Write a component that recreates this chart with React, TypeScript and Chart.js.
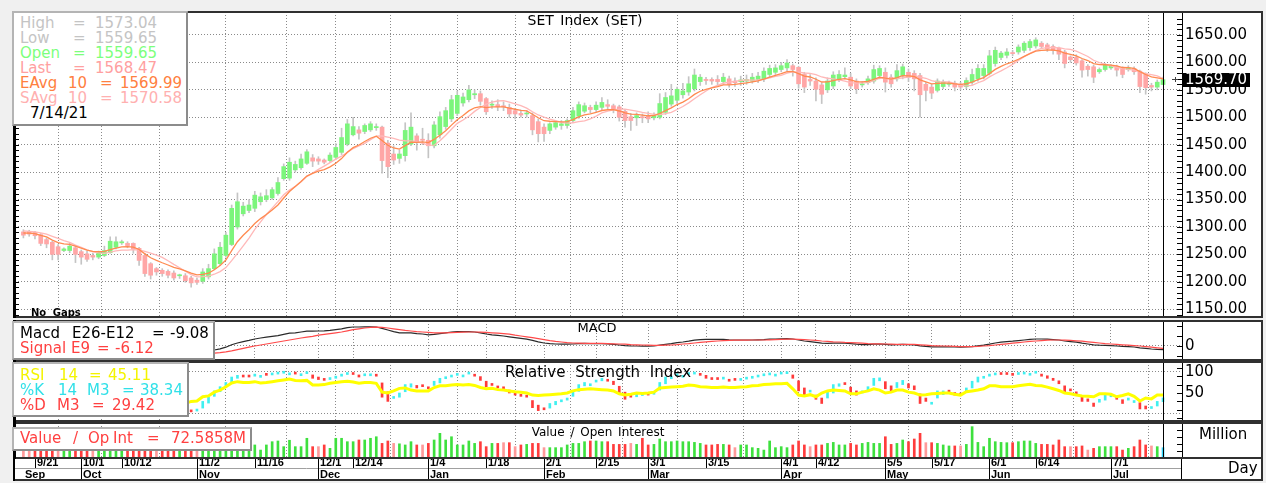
import React, { useEffect, useRef } from "react";
import { Chart, registerables } from "chart.js";

Chart.register(...registerables);

// ================= DATA =================
const tickIndex = [2, 10, 17, 30, 40, 51, 57, 70, 80, 90, 99, 108, 118, 131, 137, 149, 157, 167, 175, 188];
const tickLabels = ["9/21", "10/1", "10/12", "11/2", "11/16", "12/1", "12/14", "1/4", "1/18", "2/1", "2/15", "3/1", "3/15", "4/1", "4/12", "5/5", "5/17", "6/1", "6/14", "7/1"];
const monthIndex = [0, 10, 30, 51, 70, 90, 108, 131, 149, 167, 188];
const monthLabels = ["Sep", "Oct", "Nov", "Dec", "Jan", "Feb", "Mar", "Apr", "May", "Jun", "Jul"];
const priceTicks = [1150, 1200, 1250, 1300, 1350, 1400, 1450, 1500, 1550, 1600, 1650];
const lastPriceLabel = 1569.7;

const openP = [
  1291, 1292, 1290, 1286, 1277, 1272, 1264, 1257, 1257, 1262,
  1255, 1251, 1248, 1245, 1248, 1253, 1263, 1271, 1270, 1270,
  1261, 1248, 1233, 1224, 1221, 1219, 1216, 1211, 1211, 1207,
  1203, 1201, 1209, 1224, 1233, 1248, 1268, 1300, 1324, 1330,
  1334, 1346, 1350, 1353, 1361, 1388, 1389, 1404, 1408, 1416,
  1426, 1424, 1422, 1421, 1427, 1436, 1451, 1468, 1477, 1474,
  1477, 1481, 1482, 1453, 1433, 1425, 1430, 1451, 1466, 1460,
  1458, 1448, 1468, 1483, 1497, 1507, 1526, 1532, 1541, 1543,
  1534, 1522, 1523, 1521, 1518, 1512, 1507, 1506, 1503, 1492,
  1482, 1476, 1482, 1485, 1485, 1494, 1502, 1511, 1518, 1514,
  1518, 1523, 1521, 1519, 1511, 1501, 1499, 1501, 1503, 1499,
  1500, 1509, 1524, 1531, 1541, 1546, 1552, 1565, 1569, 1569,
  1569, 1565, 1570, 1566, 1565, 1566, 1566, 1569, 1570, 1578,
  1582, 1587, 1590, 1594, 1591, 1578, 1569, 1566, 1559, 1550,
  1557, 1569, 1574, 1573, 1566, 1559, 1563, 1566, 1576, 1582,
  1573, 1570, 1576, 1582, 1580, 1576, 1560, 1555, 1549, 1556,
  1560, 1562, 1560, 1556, 1564, 1570, 1576, 1580, 1598, 1609,
  1613, 1618, 1619, 1622, 1627, 1630, 1635, 1632, 1629, 1626,
  1619, 1610, 1609, 1603, 1593, 1592, 1583, 1587, 1590, 1592,
  1589, 1587, 1589, 1584, 1579, 1558, 1555, 1559.65,
];
const highP = [
  1295, 1294, 1292, 1288, 1280, 1274, 1268, 1262, 1270, 1266,
  1258, 1256, 1252, 1256, 1265, 1282, 1282, 1276, 1273, 1271,
  1263, 1252, 1235, 1226, 1224, 1222, 1220, 1214, 1215, 1210,
  1207, 1224, 1232, 1260, 1272, 1290, 1340, 1362, 1345, 1350,
  1365, 1362, 1368, 1372, 1390, 1415, 1426, 1420, 1433, 1441,
  1432, 1428, 1424, 1435, 1452, 1480, 1496, 1500, 1483, 1488,
  1492, 1488, 1484, 1458, 1448, 1440, 1490, 1508, 1470, 1480,
  1470, 1492, 1510, 1518, 1540, 1548, 1544, 1558, 1550, 1548,
  1536, 1530, 1532, 1528, 1524, 1516, 1513, 1512, 1508, 1497,
  1488, 1490, 1494, 1494, 1497, 1518, 1528, 1526, 1522, 1528,
  1536, 1532, 1524, 1522, 1514, 1507, 1508, 1506, 1510, 1508,
  1543, 1545, 1560, 1555, 1562, 1574, 1588, 1578, 1573, 1572,
  1576, 1580, 1575, 1572, 1575, 1577, 1580, 1582, 1590, 1595,
  1596, 1600, 1605, 1597, 1593, 1582, 1578, 1572, 1563, 1572,
  1583, 1585, 1590, 1580, 1570, 1565, 1575, 1595, 1594, 1590,
  1578, 1596, 1597, 1588, 1585, 1580, 1563, 1560, 1570, 1568,
  1566, 1566, 1564, 1572, 1588, 1596, 1596, 1622, 1628, 1620,
  1625, 1622, 1632, 1638, 1642, 1645, 1638, 1635, 1632, 1628,
  1622, 1612, 1614, 1605, 1596, 1595, 1590, 1598, 1596, 1595,
  1592, 1594, 1592, 1586, 1581, 1562, 1568, 1573.04,
];
const lowP = [
  1280, 1283, 1278, 1266, 1262, 1240, 1240, 1255, 1253, 1235,
  1232, 1237, 1240, 1242, 1246, 1252, 1260, 1268, 1262, 1252,
  1230, 1210, 1205, 1212, 1210, 1207, 1203, 1206, 1199, 1190,
  1195, 1197, 1205, 1222, 1230, 1245, 1266, 1296, 1320, 1326,
  1328, 1340, 1346, 1350, 1358, 1385, 1385, 1400, 1405, 1414,
  1410, 1414, 1415, 1418, 1423, 1432, 1448, 1466, 1460, 1470,
  1474, 1476, 1398, 1390, 1414, 1416, 1420, 1448, 1440, 1450,
  1426, 1444, 1462, 1478, 1492, 1503, 1520, 1528, 1534, 1522,
  1505, 1516, 1512, 1512, 1500, 1497, 1500, 1500, 1468, 1455,
  1456, 1470, 1478, 1478, 1480, 1490, 1498, 1508, 1508, 1510,
  1514, 1515, 1508, 1493, 1482, 1476, 1485, 1490, 1490, 1495,
  1497, 1505, 1520, 1525, 1535, 1540, 1548, 1558, 1560, 1560,
  1558, 1560, 1555, 1556, 1558, 1560, 1562, 1563, 1565, 1572,
  1578, 1583, 1585, 1575, 1553, 1545, 1558, 1530, 1525, 1545,
  1552, 1565, 1570, 1552, 1543, 1555, 1560, 1562, 1570, 1546,
  1555, 1566, 1570, 1565, 1548, 1500, 1530, 1534, 1546, 1552,
  1556, 1548, 1550, 1552, 1560, 1566, 1570, 1577, 1593, 1605,
  1608, 1612, 1615, 1618, 1622, 1626, 1625, 1620, 1615, 1605,
  1590, 1600, 1595, 1573, 1575, 1563, 1580, 1584, 1587, 1575,
  1572, 1584, 1578, 1545, 1542, 1548, 1550, 1559.65,
];
const closeP = [
  1285, 1287, 1284, 1270, 1269, 1250, 1250, 1260, 1265, 1250,
  1245, 1241, 1245, 1254, 1257, 1274, 1273, 1273, 1266, 1260,
  1239, 1215, 1212, 1218, 1215, 1212, 1207, 1212, 1202, 1198,
  1199, 1218, 1224, 1251, 1263, 1285, 1334, 1346, 1338, 1340,
  1358, 1355, 1357, 1368, 1381, 1410, 1418, 1414, 1424, 1437,
  1420, 1420, 1418, 1431, 1445, 1463, 1488, 1483, 1471, 1485,
  1488, 1483, 1421, 1410, 1422, 1433, 1476, 1482, 1454, 1458,
  1448, 1486, 1501, 1512, 1532, 1540, 1537, 1550, 1543, 1529,
  1510, 1524, 1519, 1519, 1506, 1506, 1504, 1507, 1477, 1470,
  1470, 1488, 1490, 1488, 1494, 1512, 1523, 1521, 1514, 1522,
  1527, 1520, 1515, 1500, 1494, 1494, 1503, 1499, 1497, 1503,
  1525, 1536, 1539, 1551, 1548, 1561, 1577, 1573, 1567, 1566,
  1565, 1573, 1560, 1563, 1568, 1569, 1573, 1575, 1584, 1589,
  1590, 1594, 1599, 1587, 1561, 1555, 1566, 1551, 1542, 1566,
  1577, 1578, 1577, 1557, 1552, 1561, 1570, 1587, 1589, 1564,
  1561, 1585, 1592, 1573, 1570, 1541, 1549, 1544, 1566, 1564,
  1562, 1555, 1555, 1567, 1578, 1589, 1589, 1612, 1622, 1617,
  1619, 1616, 1628, 1635, 1638, 1641, 1629, 1625, 1622, 1615,
  1598, 1605, 1599, 1586, 1587, 1573, 1587, 1595, 1593, 1586,
  1578, 1590, 1583, 1556, 1554, 1555, 1564, 1568.47,
];
const ema10 = [
  1289, 1288.6, 1287.8, 1284.6, 1281.8, 1276.0, 1271.3, 1269.2, 1268.4, 1265.1,
  1261.4, 1257.7, 1255.4, 1255.1, 1255.4, 1258.8, 1261.4, 1263.5, 1264.0, 1263.3,
  1258.9, 1250.9, 1243.8, 1239.1, 1234.7, 1230.6, 1226.3, 1223.7, 1219.8, 1215.8,
  1212.7, 1213.7, 1215.6, 1222.0, 1229.5, 1239.6, 1256.8, 1273.0, 1284.8, 1294.8,
  1306.3, 1315.2, 1322.8, 1331.0, 1340.1, 1352.8, 1364.7, 1373.7, 1382.9, 1392.7,
  1397.7, 1401.8, 1404.7, 1409.5, 1416.0, 1424.6, 1436.1, 1444.6, 1449.4, 1455.9,
  1461.7, 1465.6, 1457.5, 1448.9, 1444.0, 1442.0, 1448.2, 1454.4, 1454.3, 1455.0,
  1453.7, 1459.6, 1467.1, 1475.3, 1485.6, 1495.5, 1503.1, 1511.6, 1517.3, 1519.4,
  1517.7, 1518.8, 1518.8, 1518.8, 1516.5, 1514.6, 1512.7, 1511.7, 1505.4, 1499.0,
  1493.7, 1492.7, 1492.2, 1491.4, 1491.9, 1495.6, 1500.6, 1504.3, 1506.1, 1509.0,
  1512.3, 1513.7, 1513.9, 1511.4, 1508.2, 1505.6, 1505.1, 1504.0, 1502.7, 1502.8,
  1506.8, 1512.1, 1517.0, 1523.2, 1527.7, 1533.8, 1541.7, 1547.4, 1551.0, 1553.7,
  1555.8, 1558.9, 1559.1, 1559.8, 1561.3, 1562.7, 1564.6, 1566.5, 1569.7, 1573.2,
  1576.3, 1579.5, 1583.0, 1583.7, 1579.6, 1575.1, 1573.4, 1569.3, 1564.3, 1564.6,
  1566.9, 1568.9, 1570.4, 1568.0, 1565.1, 1564.4, 1565.4, 1569.3, 1572.9, 1571.3,
  1569.4, 1572.2, 1575.8, 1575.3, 1574.3, 1568.2, 1564.7, 1560.9, 1561.8, 1562.2,
  1562.2, 1560.9, 1559.8, 1561.1, 1564.2, 1568.7, 1572.4, 1579.6, 1587.3, 1592.7,
  1597.5, 1600.9, 1605.8, 1611.1, 1616.0, 1620.6, 1622.1, 1622.6, 1622.5, 1621.1,
  1616.9, 1614.7, 1611.8, 1607.1, 1603.4, 1597.9, 1595.9, 1595.7, 1595.2, 1593.5,
  1590.7, 1590.6, 1589.2, 1583.2, 1577.9, 1573.7, 1571.9, 1569.99,
];
const sma10 = [
  1293, 1292, 1291, 1289, 1287, 1283, 1279, 1275, 1272, 1267.0,
  1263.0, 1258.4, 1254.5, 1252.9, 1251.7, 1254.1, 1256.4, 1257.7, 1257.8, 1258.8,
  1258.2, 1255.6, 1252.3, 1248.7, 1244.5, 1238.3, 1231.7, 1225.6, 1219.2, 1213.0,
  1209.0, 1209.3, 1210.5, 1213.8, 1218.6, 1225.9, 1238.6, 1252.0, 1265.6, 1279.8,
  1295.7, 1309.4, 1322.7, 1334.4, 1346.2, 1358.7, 1367.1, 1373.9, 1382.5, 1392.2,
  1398.4, 1404.9, 1411.0, 1417.3, 1423.7, 1429.0, 1436.0, 1442.9, 1447.6, 1452.4,
  1459.2, 1465.5, 1465.8, 1463.7, 1461.4, 1458.4, 1457.2, 1457.1, 1455.4, 1452.7,
  1448.7, 1449.0, 1457.0, 1467.2, 1478.2, 1488.9, 1495.0, 1501.8, 1510.7, 1517.8,
  1524.0, 1527.8, 1529.6, 1530.3, 1527.7, 1524.3, 1521.0, 1516.7, 1510.1, 1504.2,
  1500.2, 1496.6, 1493.7, 1490.6, 1489.4, 1490.0, 1491.9, 1493.3, 1497.0, 1502.2,
  1507.9, 1511.1, 1513.6, 1514.8, 1514.8, 1513.0, 1511.0, 1508.8, 1507.1, 1505.2,
  1505.0, 1506.6, 1509.0, 1514.1, 1519.5, 1526.2, 1533.6, 1541.0, 1548.0, 1554.3,
  1558.3, 1562.0, 1564.1, 1565.3, 1567.3, 1568.1, 1567.7, 1567.9, 1569.6, 1571.9,
  1574.4, 1576.5, 1580.4, 1582.8, 1582.1, 1580.7, 1580.0, 1577.6, 1573.4, 1571.1,
  1569.8, 1568.2, 1566.0, 1563.0, 1562.1, 1562.7, 1563.1, 1566.7, 1571.4, 1571.2,
  1569.6, 1570.3, 1571.8, 1573.4, 1575.2, 1573.2, 1571.1, 1566.8, 1564.5, 1564.5,
  1564.6, 1561.6, 1557.9, 1557.3, 1558.1, 1562.9, 1566.9, 1573.7, 1579.3, 1584.6,
  1590.3, 1596.4, 1603.7, 1610.5, 1616.5, 1621.7, 1625.7, 1627.0, 1627.0, 1626.8,
  1624.7, 1623.6, 1620.7, 1615.8, 1610.7, 1603.9, 1599.7, 1596.7, 1593.8, 1590.9,
  1588.9, 1587.4, 1585.8, 1582.8, 1579.5, 1577.7, 1575.4, 1570.58,
];
const macdLine = [
  -3, -4, -5, -6, -7, -8, -9, -10, -10, -11,
  -12, -13, -13, -13, -13, -12, -11, -10, -10, -10,
  -12, -14, -16, -17, -18, -19, -20, -20, -21, -21,
  -20, -17, -14, -10, -7, -3, 3, 7.5, 11, 14,
  17.5, 20, 22, 24, 26, 29, 32, 33, 35, 37,
  37, 37.5, 38, 39, 41, 43, 46, 47.5, 47.5, 48,
  48, 47.5, 44, 40, 36, 33, 33, 33, 31, 30,
  28, 29, 31, 33, 35, 36, 36, 36, 35, 33,
  30, 28, 26.5, 25, 23, 21, 19, 17, 14, 10.5,
  7.5, 6, 5, 4.5, 4.5, 5, 6, 6.5, 6, 6,
  6, 5, 4, 2.5, 1, 0, 0, -0.5, -0.5, 0,
  2, 4, 6, 8.5, 10, 12, 14.5, 16, 16.5, 16.5,
  16.5, 16.5, 15.5, 15, 15, 15, 15, 15.5, 16, 17,
  17.5, 18, 18.5, 17.5, 15, 12.5, 11, 9, 7, 6.5,
  7, 7, 7, 6, 4.5, 3.5, 3.5, 4.5, 5, 4,
  3, 3.5, 4, 3.5, 3, 0.5, -1, -2, -2, -2,
  -2, -2.5, -3, -2.5, -1.5, 0.5, 2, 4.5, 7.5, 9.5,
  11, 12, 13.5, 15, 16.5, 17.5, 17.5, 17, 16, 15,
  12.5, 11, 9.5, 7, 5, 3, 2, 1.5, 1, 0,
  -1, -1.5, -2.5, -4.5, -6, -7.5, -8.5, -9.08,
];
const signalLine = [
  -2, -2.5, -3, -3.5, -4, -5, -5.5, -6, -7, -7.5,
  -8, -9, -9.5, -10, -10.5, -11, -11, -11, -11, -11,
  -11.5, -12, -12.5, -13, -14, -15, -15.5, -16, -17, -17.5,
  -18, -18, -18, -18, -16.5, -14.5, -12, -9, -6, -3,
  0, 2.5, 5, 7.5, 10, 12.5, 15, 17.5, 20, 22,
  24, 27, 29, 31, 33, 35, 38, 41, 43, 45,
  46.5, 47, 46.5, 45, 43, 41, 39, 37.5, 36, 35,
  34, 33, 33, 33, 33.5, 34, 34.5, 35, 35, 34.5,
  34, 33, 32, 31, 29.5, 27, 25, 23, 21, 18.5,
  16, 13.5, 11.5, 10, 8.5, 7.5, 7, 6.5, 6.5, 6.5,
  6.5, 6, 5.5, 5, 4.5, 3.5, 3, 2.5, 2, 1.5,
  1.5, 2, 2.5, 3.5, 5, 6, 7.5, 9, 10.5, 11.5,
  12.5, 13.5, 14, 14.5, 14.5, 14.5, 15, 15, 15, 15.5,
  16, 16.5, 17, 17, 16.5, 16, 15, 14, 12.5, 11.5,
  10.5, 10, 9, 8.5, 8, 7, 6, 5.5, 5.5, 5,
  4.5, 4, 4, 4, 4, 3, 2, 1, 0.5, 0,
  -0.5, -1, -1.5, -1.5, -1.5, -1, 0, 1, 2.5, 4,
  5.5, 7, 8.5, 10, 11.5, 12.5, 13.5, 14.5, 15, 15,
  14.5, 14, 13, 12, 10.5, 9, 7.5, 6, 5, 4,
  3, 2, 1, 0, -1.5, -3, -4.5, -6.12,
];
const rsi14 = [
  45, 46, 44, 35, 35, 28, 28, 38, 42, 33,
  31, 30, 33, 40, 42, 55, 54, 54, 48, 44,
  35, 25, 24, 30, 28, 26, 24, 30, 25, 30,
  31, 41, 43, 52, 57, 65, 74, 77, 75, 75,
  77, 74, 75, 77, 79, 81, 83, 80, 79, 80,
  69, 69, 70, 73, 75, 77, 78, 76, 73, 75,
  75, 73, 52, 50, 55, 61, 62, 57, 55, 55,
  55, 63, 67, 67, 69, 70, 69, 70, 68, 63,
  60, 61, 58, 57, 55, 53, 52, 50, 45, 44,
  45, 46, 47, 48, 50, 55, 58, 59, 60, 59,
  58, 57, 55, 48, 45, 47, 50, 49, 50, 52,
  62, 63, 64, 65, 66, 69, 68, 65, 64, 63,
  63, 64, 63, 63, 64, 65, 67, 68, 70, 71,
  72, 72, 73, 60, 45, 43, 46, 41, 50, 55,
  57, 56, 55, 48, 48, 52, 55, 60, 57, 50,
  52, 57, 57, 52, 50, 45, 46, 48, 49, 50,
  50, 47, 45, 53, 55, 57, 60, 67, 67, 65,
  65, 65, 67, 69, 71, 68, 67, 64, 60, 56,
  50, 48, 45, 43, 42, 41, 48, 48, 47, 41,
  44, 48, 42, 31, 38, 36, 45, 45.11,
];
const stochK = [
  60, 55, 50, 30, 25, 12, 10, 30, 40, 25,
  15, 12, 18, 35, 45, 80, 82, 85, 75, 60,
  30, 10, 8, 15, 12, 10, 8, 15, 8, 5,
  8, 30, 40, 55, 65, 75, 88, 92, 88, 88,
  95, 92, 92, 95, 97, 98, 98, 95, 96, 97,
  85, 82, 80, 85, 90, 95, 97, 94, 88, 92,
  93, 90, 40, 30, 40, 50, 70, 72, 62, 65,
  60, 78, 85, 88, 92, 95, 93, 96, 90, 80,
  65, 68, 62, 60, 50, 45, 42, 40, 15, 8,
  10, 25, 30, 32, 38, 55, 70, 75, 72, 80,
  85, 78, 70, 50, 35, 40, 48, 45, 45, 52,
  75, 88, 90, 95, 92, 96, 98, 92, 85, 82,
  82, 86, 78, 80, 83, 85, 88, 90, 94, 95,
  95, 96, 98, 85, 55, 45, 55, 35, 25, 55,
  70, 72, 70, 50, 45, 55, 65, 85, 86, 60,
  55, 75, 80, 62, 58, 25, 30, 28, 55, 55,
  52, 45, 45, 62, 78, 88, 88, 95, 97, 94,
  94, 92, 96, 97, 97, 98, 90, 85, 80, 72,
  50, 55, 48, 30, 30, 18, 35, 45, 42, 35,
  25, 38, 32, 12, 12, 15, 30, 38.34,
];
const stochD = [
  62, 58, 55, 45, 35, 22, 16, 17, 27, 32,
  27, 17, 15, 22, 33, 53, 69, 82, 81, 73,
  55, 33, 16, 11, 12, 12, 10, 11, 10, 9,
  7, 14, 26, 42, 53, 65, 76, 85, 89, 89,
  90, 92, 93, 93, 95, 97, 98, 97, 96, 96,
  93, 88, 82, 82, 85, 90, 94, 95, 93, 91,
  91, 92, 74, 53, 37, 40, 53, 64, 68, 66,
  62, 68, 74, 84, 88, 92, 93, 95, 93, 89,
  78, 71, 65, 63, 57, 52, 46, 42, 32, 21,
  11, 14, 22, 29, 33, 42, 54, 67, 72, 76,
  79, 81, 78, 66, 52, 42, 41, 44, 46, 47,
  57, 72, 84, 91, 92, 94, 95, 95, 92, 86,
  83, 83, 82, 81, 80, 83, 85, 88, 91, 93,
  95, 95, 96, 93, 79, 62, 52, 45, 38, 38,
  50, 66, 71, 64, 55, 50, 55, 68, 79, 77,
  67, 63, 70, 72, 67, 48, 38, 28, 38, 46,
  54, 51, 47, 51, 62, 76, 85, 90, 93, 95,
  95, 93, 94, 95, 97, 97, 95, 91, 85, 79,
  67, 59, 51, 44, 36, 26, 28, 33, 41, 41,
  34, 33, 32, 27, 19, 13, 19, 29.42,
];
const valueM = [
  95, 88, 90, 100, 92, 110, 98, 85, 90, 96,
  88, 92, 85, 90, 95, 105, 100, 88, 86, 92,
  110, 120, 100, 90, 88, 85, 92, 80, 95, 100,
  98, 120, 110, 130, 125, 140, 170, 160, 130, 120,
  92, 56, 92, 115, 120, 80, 125, 80, 80, 139,
  80, 80, 92, 68, 139, 139, 115, 115, 127, 127,
  139, 150, 103, 120, 103, 100, 92, 115, 92, 92,
  103, 127, 174, 127, 150, 92, 92, 120, 103, 115,
  80, 103, 103, 108, 108, 80, 92, 96, 103, 103,
  73, 73, 73, 73, 92, 103, 103, 115, 120, 120,
  115, 115, 96, 96, 96, 103, 96, 139, 92, 96,
  134, 115, 115, 120, 115, 115, 110, 103, 92, 92,
  96, 96, 92, 73, 92, 92, 73, 68, 56, 120,
  73, 80, 73, 92, 120, 92, 80, 92, 92, 103,
  110, 92, 92, 103, 92, 103, 110, 103, 103, 150,
  96, 103, 127, 115, 134, 174, 108, 108, 103, 92,
  85, 85, 85, 96, 221, 110, 80, 139, 115, 110,
  108, 108, 115, 120, 120, 103, 96, 96, 92, 127,
  80, 80, 80, 85, 56, 68, 80, 80, 80, 80,
  56, 68, 80, 127, 92, 85, 80, 72.59,
];

// ================= LAYOUT =================
const PAGE_W = 1266;
const AREA_LEFT = 15;
const AREA_RIGHT = 1182;
const FRAME_LEFT = 13;
const FRAME_RIGHT = 1262;
const X_MIN = -1.452;
const X_MAX = 200.28;
const LAST = closeP.length - 1;
const FONT = '"DejaVu Sans", "Liberation Sans", sans-serif';
const GRID = "#8a8a8a";

const barIndex = closeP.map((_, i) => i);

function xScaleOpts() {
  return {
    type: "linear",
    min: X_MIN,
    max: X_MAX,
    offset: false,
    bounds: "data",
    afterBuildTicks: (s: any) => {
      s.ticks = tickIndex.map((v) => ({ value: v }));
    },
    afterFit: (s: any) => {
      s.height = 0;
      s.paddingLeft = 0;
      s.paddingRight = 0;
    },
    ticks: { display: false },
    grid: { color: GRID, lineWidth: 1, drawTicks: false },
    border: { display: false, dash: [1, 2] },
  };
}

function yScaleOpts(min: number, max: number, ticks: number[], label: (v: number) => string, gridFor: (v: number) => string) {
  return {
    type: "linear",
    position: "right",
    min,
    max,
    bounds: "data",
    afterBuildTicks: (s: any) => {
      s.ticks = ticks.map((v) => ({ value: v }));
    },
    afterFit: (s: any) => {
      s.width = PAGE_W - AREA_RIGHT;
      s.paddingTop = 0;
      s.paddingBottom = 0;
    },
    ticks: {
      autoSkip: false,
      padding: 3,
      color: "#000",
      font: { family: "DejaVu Sans", size: 15 },
      callback: (v: number) => label(v),
    },
    grid: {
      drawTicks: false,
      lineWidth: 1,
      color: (c: any) => gridFor(c.tick ? c.tick.value : NaN),
    },
    border: { display: false, dash: [1, 2] },
  };
}

function framePlugin(canvasTop: number, frameTop: number, frameBottom: number, rightTicks: number[], leftTicks: number[], extra?: (chart: any, ctx: CanvasRenderingContext2D) => void) {
  return {
    id: "frame" + canvasTop,
    beforeDraw(chart: any) {
      const ctx = chart.ctx;
      ctx.save();
      ctx.fillStyle = "#ffffff";
      ctx.fillRect(FRAME_LEFT, frameTop - canvasTop, FRAME_RIGHT - FRAME_LEFT, frameBottom - frameTop);
      ctx.restore();
    },
    afterDraw(chart: any) {
      const ctx: CanvasRenderingContext2D = chart.ctx;
      const ca = chart.chartArea;
      const xs = chart.scales.x;
      const ys = chart.scales.y;
      ctx.save();
      ctx.setLineDash([]);
      ctx.strokeStyle = "#000";
      ctx.lineWidth = 1;
      const xl = Math.round(xs.getPixelForValue(LAST)) + 0.5;
      ctx.beginPath();
      ctx.moveTo(xl, ca.top);
      ctx.lineTo(xl, ca.bottom);
      ctx.moveTo(AREA_RIGHT + 0.5, ca.top);
      ctx.lineTo(AREA_RIGHT + 0.5, ca.bottom);
      ctx.stroke();
      ctx.beginPath();
      for (const v of rightTicks) {
        const y = Math.round(ys.getPixelForValue(v)) + 0.5;
        if (y < ca.top + 2 || y > ca.bottom - 2) continue;
        ctx.moveTo(AREA_RIGHT - 5, y);
        ctx.lineTo(AREA_RIGHT, y);
      }
      for (const v of leftTicks) {
        const y = Math.round(ys.getPixelForValue(v)) + 0.5;
        if (y < ca.top + 2 || y > ca.bottom - 2) continue;
        ctx.moveTo(AREA_LEFT, y);
        ctx.lineTo(AREA_LEFT + 4, y);
      }
      ctx.stroke();
      if (extra) extra(chart, ctx);
      ctx.strokeStyle = "#303030";
      ctx.lineWidth = 2;
      ctx.strokeRect(FRAME_LEFT + 1, frameTop - canvasTop + 1, FRAME_RIGHT - FRAME_LEFT - 1, frameBottom - frameTop - 2);
      ctx.fillStyle = "#000";
      ctx.fillRect(FRAME_LEFT, frameTop - canvasTop, 3, frameBottom - frameTop);
      ctx.restore();
    },
  };
}

function baseOptions(canvasTop: number, canvasH: number, areaTop: number, areaBottom: number, y: any) {
  return {
    responsive: false,
    maintainAspectRatio: false,
    animation: false,
    devicePixelRatio: 1,
    events: [],
    layout: {
      padding: { left: AREA_LEFT, right: 0, top: areaTop - canvasTop, bottom: canvasTop + canvasH - areaBottom },
    },
    plugins: { legend: { display: false }, tooltip: { enabled: false }, title: { display: false } },
    scales: { x: xScaleOpts(), y },
  };
}

function range(a: number, b: number, step: number) {
  const out: number[] = [];
  for (let v = a; v <= b + 1e-9; v += step) out.push(v);
  return out;
}

// ---------- main price panel ----------
const MAIN = { top: 11, h: 308, aTop: 12, aBot: 318 };
function mainConfig() {
  const y = yScaleOpts(1134.0, 1691.9, priceTicks, (v) => v.toFixed(2), () => GRID);
  const minor = range(1140, 1690, 10);
  const extra = (chart: any, ctx: CanvasRenderingContext2D) => {
    const ys = chart.scales.y;
    const py = Math.round(ys.getPixelForValue(lastPriceLabel));
    ctx.fillStyle = "#000";
    ctx.fillRect(AREA_RIGHT + 1, py - 6, 67, 14);
    ctx.fillStyle = "#fff";
    ctx.font = '15px "DejaVu Sans"';
    ctx.textBaseline = "middle";
    ctx.textAlign = "left";
    ctx.fillText(lastPriceLabel.toFixed(2), AREA_RIGHT + 3, py + 1.5);
    ctx.strokeStyle = "#404040";
    ctx.lineWidth = 1;
    ctx.beginPath();
    ctx.moveTo(1172, py + 0.5);
    ctx.lineTo(1178, py + 0.5);
    ctx.moveTo(1175.5, py - 2);
    ctx.lineTo(1175.5, py + 3);
    ctx.stroke();
  };
  return {
    type: "bar",
    data: {
      datasets: [
        {
          type: "line",
          data: barIndex.map((i) => ({ x: i, y: ema10[i] })),
          borderColor: "#ff8a50",
          borderWidth: 1.3,
          pointRadius: 0,
          order: 0,
        },
        {
          type: "line",
          data: barIndex.map((i) => ({ x: i, y: sma10[i] })),
          borderColor: "#ffb8b8",
          borderWidth: 1.3,
          pointRadius: 0,
          order: 1,
        },
        {
          type: "bar",
          data: barIndex.map((i) => ({ x: i, y: [openP[i], closeP[i]] })),
          backgroundColor: barIndex.map((i) => (closeP[i] >= openP[i] ? "#7cf57c" : "#ffa6a6")),
          barThickness: 4,
          minBarLength: 1,
          grouped: false,
          order: 2,
        },
        {
          type: "bar",
          data: barIndex.map((i) => ({ x: i, y: [lowP[i], highP[i]] })),
          backgroundColor: "#c4c4c4",
          barThickness: 1,
          grouped: false,
          order: 3,
        },
      ],
    },
    options: baseOptions(MAIN.top, MAIN.h, MAIN.aTop, MAIN.aBot, y),
    plugins: [framePlugin(MAIN.top, 11, 318, minor, minor, extra)],
  };
}

// ---------- MACD panel ----------
const MACD = { top: 320, h: 41, aTop: 321, aBot: 360 };
function macdConfig() {
  const y = yScaleOpts(-35, 62.5, [-25, 0, 25, 50], (v) => (v === 0 ? "0" : ""), (v) => (v === 0 ? GRID : "rgba(0,0,0,0)"));
  return {
    type: "line",
    data: {
      datasets: [
        {
          data: barIndex.map((i) => ({ x: i, y: signalLine[i] })),
          borderColor: "#ff4a4a",
          borderWidth: 1.2,
          pointRadius: 0,
          order: 0,
        },
        {
          data: barIndex.map((i) => ({ x: i, y: macdLine[i] })),
          borderColor: "#2a2a2a",
          borderWidth: 1.2,
          pointRadius: 0,
          order: 1,
        },
      ],
    },
    options: baseOptions(MACD.top, MACD.h, MACD.aTop, MACD.aBot, y),
    plugins: [framePlugin(MACD.top, 320, 361, [-25, 0, 25, 50], [])],
  };
}

// ---------- RSI panel ----------
const RSI = { top: 361, h: 61, aTop: 362, aBot: 421 };
function rsiConfig() {
  const y = yScaleOpts(-16.7, 123.8, [0, 50, 100], (v) => (v === 0 ? "" : String(v)), (v) => (v === 50 ? "rgba(0,0,0,0)" : GRID));
  return {
    type: "bar",
    data: {
      datasets: [
        {
          type: "line",
          data: barIndex.map((i) => ({ x: i, y: rsi14[i] })),
          borderColor: "#ffff00",
          borderWidth: 3,
          pointRadius: 0,
          order: 0,
        },
        {
          type: "bar",
          data: barIndex.map((i) => ({ x: i, y: [stochD[i], stochK[i]] })),
          backgroundColor: barIndex.map((i) => (stochK[i] >= stochD[i] ? "#40f0f0" : "#ff3a3a")),
          barThickness: 2,
          minBarLength: 2,
          grouped: false,
          order: 1,
        },
      ],
    },
    options: baseOptions(RSI.top, RSI.h, RSI.aTop, RSI.aBot, y),
    plugins: [framePlugin(RSI.top, 361, 422, range(-10, 110, 20), [])],
  };
}

// ---------- Value panel + date axis ----------
const VOL = { top: 422, h: 59, aTop: 423, aBot: 458 };
function volConfig() {
  const y = yScaleOpts(0, 246.75, [], () => "", () => "rgba(0,0,0,0)");
  const dateAxis = (chart: any, ctx: CanvasRenderingContext2D) => {
    const xs = chart.scales.x;
    const off = VOL.top;
    const top = 458 - off;
    const mid = 468 - off;
    const bot = 481 - off;
    ctx.fillStyle = "#fff";
    ctx.fillRect(FRAME_LEFT, top, FRAME_RIGHT - FRAME_LEFT, bot - top);
    ctx.strokeStyle = "#a0a0a0";
    ctx.lineWidth = 1;
    ctx.beginPath();
    ctx.moveTo(AREA_LEFT, mid + 0.5);
    ctx.lineTo(1181, mid + 0.5);
    ctx.stroke();
    ctx.strokeStyle = "#000";
    ctx.beginPath();
    ctx.moveTo(1181.5, top);
    ctx.lineTo(1181.5, bot);
    ctx.stroke();
    ctx.font = 'bold 11px "Liberation Sans", Arial, sans-serif';
    ctx.fillStyle = "#000";
    ctx.textAlign = "left";
    ctx.textBaseline = "alphabetic";
    tickIndex.forEach((v, k) => {
      const x = Math.round(xs.getPixelForValue(v)) + 0.5;
      const isMonth = monthIndex.indexOf(v) >= 0;
      ctx.beginPath();
      ctx.moveTo(x, top);
      ctx.lineTo(x, isMonth ? bot : mid);
      ctx.stroke();
      ctx.fillText(tickLabels[k], x + 1.5, 466 - off);
    });
    monthIndex.forEach((v, k) => {
      const x = Math.round(xs.getPixelForValue(v)) + 2;
      ctx.fillText(monthLabels[k], x, 478 - off);
    });
    ctx.strokeStyle = "#303030";
    ctx.lineWidth = 2;
    ctx.strokeRect(FRAME_LEFT + 1, top, FRAME_RIGHT - FRAME_LEFT - 1, bot - top - 1);
    ctx.fillStyle = "#000";
    ctx.fillRect(FRAME_LEFT, top, 2, bot - top);
  };
  return {
    type: "bar",
    data: {
      datasets: [
        {
          data: barIndex.map((i) => ({ x: i, y: valueM[i] })),
          backgroundColor: barIndex.map((i) => {
            if (i === LAST) return "#30d8ff";
            if (closeP[i] >= openP[i]) return "#3ee03e";
            if (i > 0 && closeP[i] < closeP[i - 1]) return "#ff3c3c";
            return "#ff9a9a";
          }),
          barThickness: 2,
          grouped: false,
        },
      ],
    },
    options: baseOptions(VOL.top, VOL.h, VOL.aTop, VOL.aBot, y),
    plugins: [framePlugin(VOL.top, 422, 459, [50, 100, 150, 200], [], dateAxis)],
  };
}

// ================= TEXT OVERLAYS =================
type Tok = [string, number];
function Row({ y, color, toks, size = 15 }: { y: number; color: string; toks: Tok[]; size?: number }) {
  return (
    <>
      {toks.map(([t, x], k) => (
        <div
          key={k}
          style={{
            position: "absolute",
            left: x,
            top: y - 9,
            height: 18,
            lineHeight: "18px",
            fontFamily: FONT,
            fontSize: size,
            color,
            whiteSpace: "pre",
          }}
        >
          {t}
        </div>
      ))}
    </>
  );
}

function CText({ cx, y, text, size, ws = 0 }: { cx: number; y: number; text: string; size: number; ws?: number }) {
  return (
    <div
      style={{
        position: "absolute",
        left: cx - 250,
        width: 500,
        top: y - 9,
        height: 18,
        lineHeight: "18px",
        textAlign: "center",
        fontFamily: FONT,
        fontSize: size,
        color: "#000",
        whiteSpace: "pre",
        wordSpacing: ws,
      }}
    >
      {text}
    </div>
  );
}

function Box({ l, t, r, b }: { l: number; t: number; r: number; b: number }) {
  return (
    <div
      style={{
        position: "absolute",
        left: l,
        top: t,
        width: r - l,
        height: b - t,
        boxSizing: "border-box",
        background: "#fff",
        borderTop: "2px solid #b4b4b4",
        borderLeft: "2px solid #b4b4b4",
        borderRight: "2px solid #8c8c8c",
        borderBottom: "2px solid #8c8c8c",
      }}
    />
  );
}

export default function App() {
  const mainRef = useRef<HTMLCanvasElement>(null);
  const macdRef = useRef<HTMLCanvasElement>(null);
  const rsiRef = useRef<HTMLCanvasElement>(null);
  const volRef = useRef<HTMLCanvasElement>(null);

  useEffect(() => {
    const charts: Chart[] = [];
    if (mainRef.current) charts.push(new Chart(mainRef.current, mainConfig() as any));
    if (macdRef.current) charts.push(new Chart(macdRef.current, macdConfig() as any));
    if (rsiRef.current) charts.push(new Chart(rsiRef.current, rsiConfig() as any));
    if (volRef.current) charts.push(new Chart(volRef.current, volConfig() as any));
    return () => {
      charts.forEach((c) => c.destroy());
    };
  }, []);

  const cv = (top: number, h: number): React.CSSProperties => ({
    position: "absolute",
    left: 0,
    top,
    width: PAGE_W,
    height: h,
    display: "block",
  });

  return (
    <div
      style={{
        position: "fixed",
        left: 0,
        top: 0,
        width: PAGE_W,
        height: 483,
        background: "#f0f0f0",
        overflow: "hidden",
        fontFamily: FONT,
      }}
    >
      <canvas ref={mainRef} width={PAGE_W} height={MAIN.h} style={cv(MAIN.top, MAIN.h)} />
      <canvas ref={macdRef} width={PAGE_W} height={MACD.h} style={cv(MACD.top, MACD.h)} />
      <canvas ref={rsiRef} width={PAGE_W} height={RSI.h} style={cv(RSI.top, RSI.h)} />
      <canvas ref={volRef} width={PAGE_W} height={VOL.h} style={cv(VOL.top, VOL.h)} />

      {/* panel titles */}
      <CText cx={585} y={20} text="SET Index (SET)" size={14} ws={2} />
      <CText cx={597} y={328} text="MACD" size={13} />
      <CText cx={598} y={371.5} text="Relative Strength Index" size={15} ws={5} />
      <CText cx={598} y={432} text="Value / Open Interest" size={12} ws={2} />

      {/* main legend */}
      <Box l={12} t={11} r={188} b={126} />
      <Row y={23.3} color="#c4c4c4" toks={[["High", 20], ["=", 73], ["1573.04", 95]]} />
      <Row y={38.3} color="#c4c4c4" toks={[["Low", 20], ["=", 73], ["1559.65", 95]]} />
      <Row y={53.3} color="#7cff7c" toks={[["Open", 20], ["=", 73], ["1559.65", 95]]} />
      <Row y={68.3} color="#ffa0a0" toks={[["Last", 20], ["=", 73], ["1568.47", 95]]} />
      <Row y={83.3} color="#ff8040" toks={[["EAvg", 20], ["10", 68], ["=", 100], ["1569.99", 120]]} />
      <Row y={98.3} color="#ffb0b0" toks={[["SAvg", 20], ["10", 68], ["=", 100], ["1570.58", 120]]} />
      <Row y={113.3} color="#000" toks={[["7/14/21", 30]]} />

      <div
        style={{
          position: "absolute",
          left: 31,
          top: 306,
          height: 13,
          lineHeight: "13px",
          fontFamily: FONT,
          fontWeight: 700,
          fontSize: 10,
          color: "#000",
          whiteSpace: "pre",
          wordSpacing: 3,
        }}
      >
        No Gaps
      </div>

      {/* MACD legend */}
      <Box l={12} t={321} r={215} b={360} />
      <Row y={333.3} color="#000" toks={[["Macd", 20], ["E26-E12", 72], ["=", 152], ["-9.08", 170]]} />
      <Row y={348.3} color="#ff4040" toks={[["Signal", 20], ["E9", 71], ["=", 97], ["-6.12", 115]]} />

      {/* RSI legend */}
      <Box l={12} t={362} r={189} b={417} />
      <Row y={375} color="#f4f400" toks={[["RSI", 20], ["14", 59], ["=", 89], ["45.11", 108]]} />
      <Row y={390} color="#30e0e8" toks={[["%K", 20], ["14", 58], ["M3", 87], ["=", 122], ["38.34", 140]]} />
      <Row y={405} color="#ff4040" toks={[["%D", 20], ["M3", 57], ["=", 92], ["29.42", 112]]} />

      {/* Value legend */}
      <Box l={12} t={427} r={252} b={451} />
      <Row y={438.3} color="#ff4040" toks={[["Value", 20], ["/", 73], ["Op", 88], ["Int", 113], ["=", 147], ["72.5858M", 171]]} />

      {/* right side captions */}
      <Row y={433.5} color="#000" toks={[["Million", 1199]]} />
      <Row y={468} color="#000" toks={[["Day", 1228]]} />
    </div>
  );
}
